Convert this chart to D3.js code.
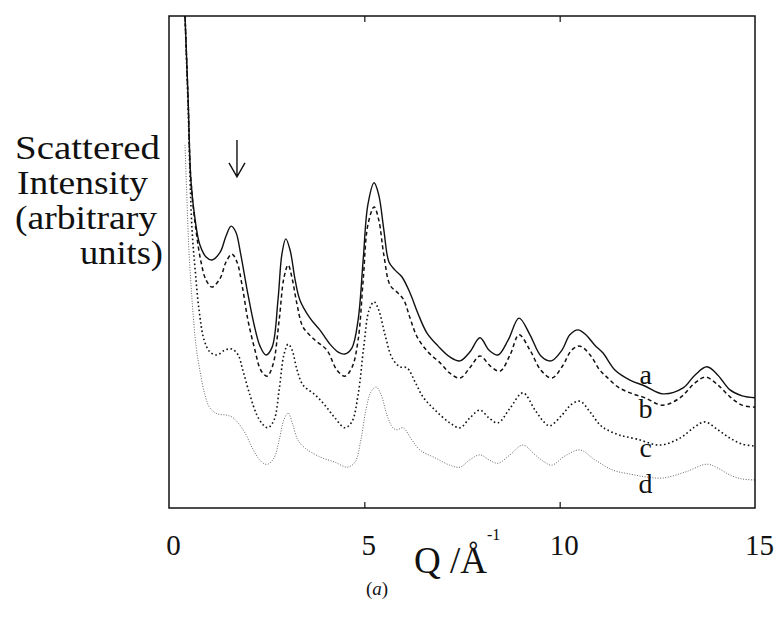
<!DOCTYPE html>
<html><head><meta charset="utf-8">
<script src="https://cdn.jsdelivr.net/npm/d3@7"></script>
<style>
html,body{margin:0;padding:0;background:#fff;}
svg text{font-family:"Liberation Serif","Times New Roman",serif;fill:#111;}
</style></head>
<body>
<svg id="chart" width="776" height="622"></svg>
<script>
// ---- data (Q in 1/Å, intensity in arbitrary units) ----
const xTicks = [0, 5, 10, 15];
const yLabelLines = ["Scattered", "Intensity", "(arbitrary", "units)"];
const curveLabels = ["a", "b", "c", "d"];

const qA = [0.41,0.49,0.56,0.67,0.79,0.95,1.10,1.31,1.46,1.59,1.71,1.84,2.00,2.18,2.33,2.48,2.64,2.79,2.89,2.99,3.10,3.23,3.35,3.61,3.86,4.12,4.33,4.50,4.68,4.84,4.97,5.09,5.25,5.37,5.50,5.63,5.78,5.96,6.17,6.37,6.60,6.89,7.19,7.45,7.70,7.96,8.19,8.42,8.68,8.96,9.24,9.52,9.78,10.06,10.26,10.47,10.67,10.90,11.11,11.42,11.80,12.18,12.64,13.16,13.46,13.77,14.05,14.36,14.67,15.00];
const iA = [100,82.9,66.7,58.5,53.5,51.0,50.4,52.0,55.3,57.3,56.1,51.4,44.3,37.2,32.9,31.1,32.7,42.3,51.6,54.7,52.4,46.3,42.3,38.6,36.2,33.3,31.7,31.3,32.5,38.2,50.4,61.6,66.1,63.6,56.5,50.0,48.4,47.0,43.7,39.6,35.6,32.9,30.7,29.9,31.7,34.6,32.1,31.1,34.1,38.6,35.2,30.9,29.9,32.1,35.2,36.2,35.2,33.1,31.5,28.0,26.0,24.8,23.2,24.4,27.0,28.7,27.0,24.0,22.8,22.4];

const qB = [0.41,0.49,0.56,0.69,0.82,0.95,1.10,1.31,1.46,1.61,1.74,1.87,2.02,2.20,2.35,2.51,2.66,2.82,2.94,3.05,3.15,3.28,3.43,3.74,4.04,4.30,4.50,4.68,4.84,4.97,5.09,5.25,5.37,5.50,5.66,5.86,6.01,6.17,6.35,6.63,6.94,7.19,7.45,7.70,7.96,8.22,8.47,8.73,8.96,9.24,9.52,9.80,10.06,10.31,10.52,10.78,11.03,11.21,11.49,11.80,12.18,12.64,13.08,13.46,13.74,14.05,14.36,14.67,15.00];
const iB = [100,82.9,66.7,56.5,50.0,46.3,44.9,46.7,50.0,51.6,50.0,45.3,38.2,32.1,28.0,26.8,29.1,38.2,46.7,49.4,46.7,41.3,36.8,34.1,32.1,28.0,26.8,28.5,34.1,46.3,57.5,61.2,58.5,51.4,45.3,43.7,42.3,38.6,34.8,31.7,29.5,27.4,26.4,28.5,30.9,28.9,27.8,31.1,35.2,32.1,28.0,26.4,28.7,32.1,32.9,31.1,28.0,26.6,24.6,23.4,22.4,20.9,22.4,25.4,26.6,25.0,22.6,20.9,20.5];

const qC = [0.41,0.49,0.54,0.59,0.67,0.77,0.90,1.05,1.23,1.43,1.61,1.77,1.89,2.07,2.25,2.41,2.53,2.69,2.82,2.94,3.05,3.15,3.28,3.43,3.74,3.99,4.25,4.50,4.68,4.84,4.99,5.12,5.25,5.37,5.53,5.71,5.91,6.09,6.30,6.50,6.81,7.19,7.45,7.70,7.96,8.19,8.42,8.73,9.06,9.37,9.62,9.75,10.06,10.31,10.52,10.78,11.03,11.21,11.54,11.98,12.57,13.08,13.46,13.72,14.05,14.36,14.67,15.00];
const iC = [100,80.9,66.7,56.5,48.4,40.2,34.1,31.7,31.1,32.1,32.3,31.1,28.0,23.0,18.9,16.9,16.3,17.9,24.0,31.1,33.3,32.1,28.0,25.0,23.0,20.9,18.3,16.3,17.5,23.0,33.1,40.2,41.9,40.2,35.2,30.5,28.7,28.5,25.6,22.6,19.9,17.3,16.3,18.3,19.9,18.3,17.3,20.3,23.4,19.9,17.3,16.7,18.9,21.1,21.7,19.5,16.9,15.9,14.8,14.0,12.8,14.2,16.5,17.5,15.9,14.2,13.0,12.6];

const qD = [0.41,0.46,0.51,0.59,0.69,0.79,0.92,1.05,1.25,1.46,1.61,1.77,1.95,2.12,2.28,2.41,2.53,2.69,2.82,2.94,3.05,3.17,3.30,3.48,3.86,4.25,4.56,4.76,4.91,5.04,5.17,5.30,5.43,5.58,5.73,5.84,5.99,6.22,6.42,6.81,7.19,7.45,7.70,7.96,8.19,8.42,8.73,9.06,9.37,9.62,9.80,10.14,10.52,10.90,11.36,11.80,12.23,12.64,13.21,13.77,14.05,14.36,14.67,15.00];
const iD = [73.8,62.6,52.4,42.3,33.1,28.0,23.0,20.3,19.1,18.9,18.5,17.3,15.2,12.4,10.2,9.1,8.9,10.2,13.8,17.9,19.3,16.9,13.8,12.2,10.4,9.3,8.3,9.3,13.8,19.9,23.6,24.6,23.0,18.9,16.3,15.9,16.3,13.8,11.8,10.2,8.7,8.3,9.8,10.8,9.8,9.1,10.8,12.8,10.8,9.3,8.7,10.6,11.8,9.8,7.7,6.9,6.3,6.1,7.3,8.9,8.1,6.7,5.9,5.7];

// annotation positions in data units
const arrowQ = 1.74, arrowTop = 74.8, arrowBottom = 67.3;
const labelQ = 12.2;
const labelI = [25.2, 18.3, 10.4, 3.1];

// ---- layout ----
const L = 169, R = 755, T = 16, B = 508;
const svg = d3.select("#chart");
const x = d3.scaleLinear().domain([0, 15]).range([L, R]);
const y = d3.scaleLinear().domain([0, 100]).range([B, T]);

svg.append("defs").append("clipPath").attr("id", "clip")
  .append("rect").attr("x", L).attr("y", T).attr("width", R - L).attr("height", B - T);

const series = [
  {q: qA, v: iA, dash: null, color: "#111", w: 1.4},
  {q: qB, v: iB, dash: "4,3", color: "#111", w: 1.5},
  {q: qC, v: iC, dash: "1.6,2.6", color: "#111", w: 1.6},
  {q: qD, v: iD, dash: "1,1.6", color: "#666", w: 1.0}
];
const line = d3.line().x(d => x(d[0])).y(d => y(d[1])).curve(d3.curveCatmullRom.alpha(0.5));
const g = svg.append("g").attr("clip-path", "url(#clip)");
series.forEach(s => {
  g.append("path")
    .datum(s.q.map((q, i) => [q, s.v[i]]))
    .attr("d", line)
    .attr("fill", "none")
    .attr("stroke", s.color)
    .attr("stroke-width", s.w)
    .attr("stroke-dasharray", s.dash)
    .attr("stroke-linejoin", "round");
});

// frame
svg.append("rect").attr("x", L).attr("y", T).attr("width", R - L).attr("height", B - T)
  .attr("fill", "none").attr("stroke", "#111").attr("stroke-width", 1.5);

// bottom axis (inner ticks)
const xa = svg.append("g").attr("transform", `translate(0,${B})`)
  .call(d3.axisBottom(x).tickValues(xTicks).tickFormat(d3.format("d")).tickSizeInner(-6).tickSizeOuter(0));
xa.select(".domain").remove();
xa.selectAll(".tick line").attr("stroke", "#111").attr("stroke-width", 1.2)
  .filter(d => d === 0 || d === 15).remove();
xa.selectAll(".tick text").attr("y", 47).attr("dy", 0).attr("dx", 4)
  .style("font-size", "29px").style("font-family", "'Liberation Serif',serif").attr("fill", "#111");

// top inner ticks
const xt = svg.append("g").attr("transform", `translate(0,${T})`)
  .call(d3.axisTop(x).tickValues([5, 10]).tickFormat("").tickSizeInner(-6).tickSizeOuter(0));
xt.select(".domain").remove();
xt.selectAll(".tick line").attr("stroke", "#111").attr("stroke-width", 1.2);

// y label
const yl = [{x: 15, y: 159, w: 145}, {x: 17, y: 194, w: 131}, {x: 15, y: 229, w: 142}, {x: 80, y: 264, w: 83}];
yLabelLines.forEach((t, i) => {
  svg.append("text").attr("x", yl[i].x).attr("y", yl[i].y)
    .attr("textLength", yl[i].w).attr("lengthAdjust", "spacingAndGlyphs")
    .style("font-size", "33px").text(t);
});

// x label
const xl = svg.append("text").attr("x", 414).attr("y", 573).style("font-size", "37px");
xl.append("tspan").text("Q /Å");
xl.append("tspan").attr("dy", -33).style("font-size", "16px").text("-1");

// caption
svg.append("text").attr("x", 377).attr("y", 595).attr("text-anchor", "middle")
  .style("font-size", "19px").html("(<tspan font-style='italic'>a</tspan>)");

// curve labels
curveLabels.forEach((t, i) => {
  svg.append("text").attr("x", x(labelQ)).attr("y", y(labelI[i])).attr("text-anchor", "middle")
    .style("font-size", "28px").text(t);
});

// arrow
const ax = x(arrowQ), ay1 = y(arrowTop), ay2 = y(arrowBottom);
svg.append("path")
  .attr("d", `M${ax},${ay1}L${ax},${ay2}M${ax - 8},${ay2 - 14}L${ax},${ay2}L${ax + 8},${ay2 - 14}`)
  .attr("fill", "none").attr("stroke", "#111").attr("stroke-width", 1.4);
</script>
</body></html>
